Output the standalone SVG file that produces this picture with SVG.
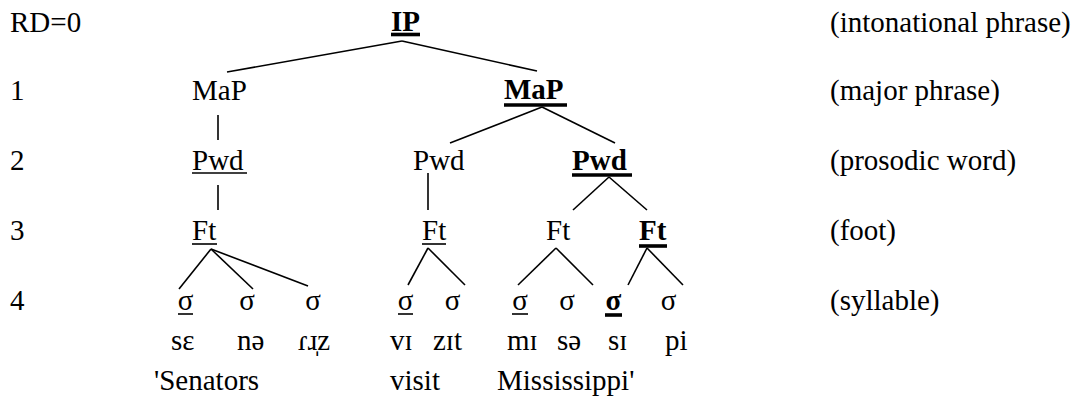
<svg xmlns="http://www.w3.org/2000/svg" width="1084" height="400" viewBox="0 0 1084 400" font-family="'Liberation Serif', 'Times New Roman', Times, 'DejaVu Serif', serif" font-size="29">
  <style>
    text { font-family: 'Liberation Serif', 'Times New Roman', Times, 'DejaVu Serif', serif; font-size: 29px; fill: #000; }
    .b { font-weight: bold; }
    .edge { stroke: #000; stroke-width: 1.6; fill: none; stroke-linecap: butt; }
    .ul { stroke: #000; stroke-width: 1.6; }
    .ulb { stroke: #000; stroke-width: 3.6; }
  </style>
  <rect width="1084" height="400" fill="#fff"/>

  <!-- level numbers -->
  <g id="levels">
    <text x="10" y="32">RD=0</text>
    <text x="10" y="100">1</text>
    <text x="10" y="170">2</text>
    <text x="10" y="240">3</text>
    <text x="10" y="310">4</text>
  </g>

  <!-- level glosses -->
  <g id="glosses">
    <text x="830" y="32">(intonational phrase)</text>
    <text x="830" y="100">(major phrase)</text>
    <text x="830" y="170">(prosodic word)</text>
    <text x="830" y="240">(foot)</text>
    <text x="830" y="310">(syllable)</text>
  </g>

  <!-- connectors -->
  <g id="connectors" class="edge">
    <line x1="402" y1="41" x2="227" y2="72"/>
    <line x1="402" y1="41" x2="537" y2="71"/>
    <line x1="218" y1="115" x2="218" y2="140"/>
    <line x1="218" y1="185" x2="218" y2="210"/>
    <line x1="542" y1="107" x2="450" y2="143"/>
    <line x1="542" y1="107" x2="615" y2="143"/>
    <line x1="428" y1="173" x2="428" y2="210"/>
    <line x1="609" y1="177" x2="573" y2="210"/>
    <line x1="609" y1="177" x2="647" y2="210"/>
    <line x1="211" y1="249" x2="179" y2="289"/>
    <line x1="211" y1="249" x2="253" y2="289"/>
    <line x1="211" y1="249" x2="308" y2="286"/>
    <line x1="428" y1="248" x2="408" y2="285"/>
    <line x1="428" y1="248" x2="465" y2="285"/>
    <line x1="556" y1="248" x2="518" y2="285"/>
    <line x1="556" y1="248" x2="593" y2="285"/>
    <line x1="647" y1="248" x2="628" y2="285"/>
    <line x1="647" y1="248" x2="683" y2="285"/>
  </g>

  <!-- intonational phrase -->
  <g id="ip">
    <text class="b" x="391" y="31">IP</text>
    <line class="ulb" x1="391" y1="34.5" x2="420" y2="34.5"/>
  </g>

  <!-- major phrases -->
  <g id="map1"><text x="192" y="100">MaP</text></g>
  <g id="map2">
    <text class="b" x="504" y="99">MaP</text>
    <line class="ulb" x1="504" y1="105" x2="567" y2="105"/>
  </g>

  <!-- prosodic words -->
  <g id="pwd1">
    <text x="192" y="170">Pwd</text>
    <line class="ul" x1="192" y1="173" x2="247" y2="173"/>
  </g>
  <g id="pwd2"><text x="413" y="170">Pwd</text></g>
  <g id="pwd3">
    <text class="b" x="572" y="170">Pwd</text>
    <line class="ulb" x1="572" y1="175" x2="632" y2="175"/>
  </g>

  <!-- feet -->
  <g id="ft1">
    <text x="192" y="240">Ft</text>
    <line class="ul" x1="192" y1="244" x2="217" y2="244"/>
  </g>
  <g id="ft2">
    <text x="422" y="240">Ft</text>
    <line class="ul" x1="422" y1="244" x2="446" y2="244"/>
  </g>
  <g id="ft3"><text x="546" y="240">Ft</text></g>
  <g id="ft4">
    <text class="b" x="639" y="240">Ft</text>
    <line class="ulb" x1="639" y1="246" x2="667" y2="246"/>
  </g>

  <!-- syllables -->
  <g id="syl1">
    <text x="185.5" y="310" text-anchor="middle">σ</text>
    <line class="ul" x1="178" y1="314" x2="193" y2="314"/>
  </g>
  <g id="syl2"><text x="247" y="310" text-anchor="middle">σ</text></g>
  <g id="syl3"><text x="313" y="310" text-anchor="middle">σ</text></g>
  <g id="syl4">
    <text x="405.5" y="310" text-anchor="middle">σ</text>
    <line class="ul" x1="398" y1="314" x2="413" y2="314"/>
  </g>
  <g id="syl5"><text x="452.5" y="310" text-anchor="middle">σ</text></g>
  <g id="syl6">
    <text x="520" y="310" text-anchor="middle">σ</text>
    <line class="ul" x1="512" y1="314" x2="528" y2="314"/>
  </g>
  <g id="syl7"><text x="567" y="310" text-anchor="middle">σ</text></g>
  <g id="syl8">
    <text class="b" x="613.5" y="310" text-anchor="middle">σ</text>
    <line class="ulb" x1="605" y1="315" x2="622" y2="315"/>
  </g>
  <g id="syl9"><text x="668.5" y="310" text-anchor="middle">σ</text></g>

  <!-- segmental transcription -->
  <g id="segments">
    <text x="171" y="350">sɛ</text>
    <text x="237" y="350">nə</text>
    <text x="298" y="350">ɾɹ̩z</text>
    <text x="390" y="350">vɪ</text>
    <text x="433" y="350">zɪt</text>
    <text x="507" y="350">mɪ</text>
    <text x="557" y="350">sə</text>
    <text x="608" y="350">sɪ</text>
    <text x="665" y="350">pi</text>
  </g>

  <!-- orthographic gloss -->
  <g id="gloss">
    <text x="154" y="390">'Senators</text>
    <text x="390" y="390">visit</text>
    <text x="497" y="390">Mississippi'</text>
  </g>
</svg>
